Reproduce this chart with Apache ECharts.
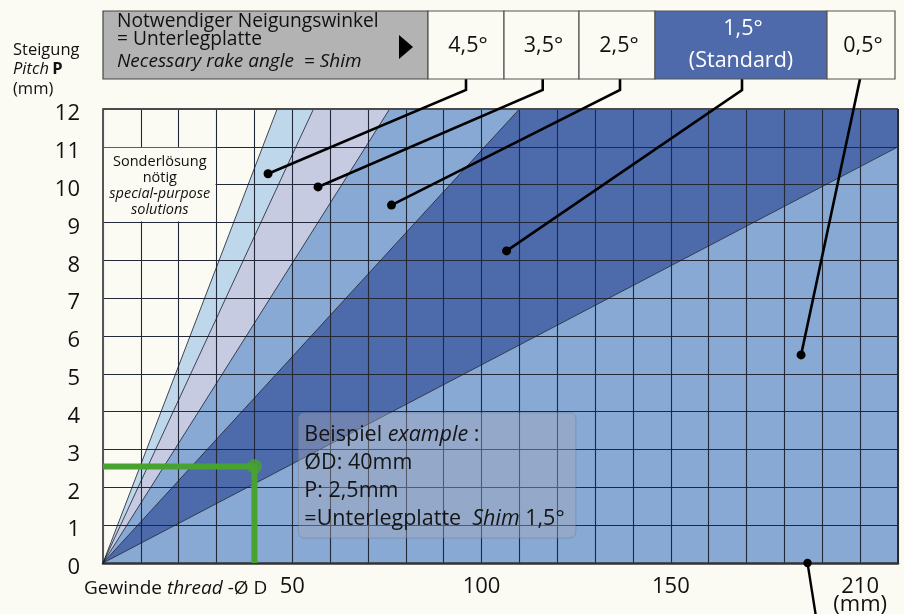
<!DOCTYPE html>
<html>
<head>
<meta charset="utf-8">
<script src="https://cdn.jsdelivr.net/npm/echarts@6/dist/echarts.min.js"></script>
<style>
html,body{margin:0;padding:0;background:#fbfbf4;}
#chart{width:904px;height:614px;}
</style>
</head>
<body>
<div id="chart"></div>
<script>
// ---------------- data ----------------
const xMin = 0, xMax = 210, xStep = 10;
const yMin = 0, yMax = 12, yStep = 1;
const xTickValues = [50, 100, 150, 200];
const xTickTexts = ['50', '100', '150', '210'];
const angleLabels = ['4,5°', '3,5°', '2,5°', '1,5°', '0,5°'];
// boundary lines from the origin (D mm, P mm) where they leave the plot
const boundaryEnds = [[46.0, 12], [55.6, 12], [75.7, 12], [110.0, 12], [210, 11.0]];
// leader-line target points, one per angle
const leaderDots = [[43.6, 10.29], [56.8, 9.94], [76.2, 9.46], [106.6, 8.25], [184.4, 5.5]];
const extraDot = [186.1, 0];
// example
const exampleD = 40, exampleP = 2.55;
const examplePath = [[0, exampleP], [exampleD, exampleP], [exampleD, 0]];
const exampleBox = [[51.6, 3.97], [124.9, 0.66]];
const noteBox = [[0, 11], [30, 9]];

// ---------------- build region polygons ----------------
function perim(p) { return p[1] >= yMax ? p[0] : xMax + (yMax - p[1]); }
const corners = [[xMax, yMax, xMax]];
const ends = boundaryEnds.concat([[xMax, 0]]);
const regionPolys = [];
for (let i = 0; i < ends.length - 1; i++) {
  const a = ends[i], b = ends[i + 1];
  const pts = [[0, 0], a];
  corners.forEach(c => { const t = c[2]; if (t > perim(a) && t < perim(b)) pts.push([c[0], c[1]]); });
  pts.push(b);
  regionPolys.push(pts);
}
const regionColors = ['#bfd7eb', '#c6cbe2', '#87a9d3', '#4d6aab', '#87a9d3'];

const FONT = '"Open Sans", "Noto Sans", sans-serif';
const BG = '#fbfbf4';
const anchorX = [466, 542.7, 620, 742, 860];

const chart = echarts.init(document.getElementById('chart'));

const headerGraphics = [];
// left title
headerGraphics.push({type:'text', x: 13, y: 50, z: 50,
  style:{text:'Steigung', font:'16.5px ' + FONT, fill:'#111', verticalAlign:'middle'}});
headerGraphics.push({type:'text', x: 13, y: 69, z: 50,
  style:{text:'{i|Pitch} {b|P}', fill:'#111', verticalAlign:'middle',
    rich:{i:{fontStyle:'italic', fontSize:16.5, fontFamily:FONT}, b:{fontWeight:'bold', fontSize:16.5, fontFamily:FONT}}}});
headerGraphics.push({type:'text', x: 13, y: 89, z: 50,
  style:{text:'(mm)', font:'16.5px ' + FONT, fill:'#111', verticalAlign:'middle'}});
// gray header box
headerGraphics.push({type:'rect', shape:{x:103, y:11, width:325, height:68}, z: 50,
  style:{fill:'#b3b3b3', stroke:'#444', lineWidth:1.2}});
headerGraphics.push({type:'text', x:117, y:22, z: 51,
  style:{text:'Notwendiger Neigungswinkel', font:'19.2px ' + FONT, fill:'#111', verticalAlign:'middle'}});
headerGraphics.push({type:'text', x:117, y:40, z: 51,
  style:{text:'= Unterlegplatte', font:'19.2px ' + FONT, fill:'#111', verticalAlign:'middle'}});
headerGraphics.push({type:'text', x:117, y:62, z: 51,
  style:{text:'Necessary rake angle  = Shim', font:'italic 19px ' + FONT, fill:'#111', verticalAlign:'middle'}});
headerGraphics.push({type:'polygon', shape:{points:[[399,35],[413,47],[399,59]]}, z: 51, style:{fill:'#000'}});
// angle boxes
const boxEdges = [428, 504, 579, 655, 827, 895];
for (let i = 0; i < angleLabels.length; i++) {
  const x0 = boxEdges[i], x1 = boxEdges[i + 1];
  const std = i === 3;
  headerGraphics.push({type:'rect', shape:{x:x0, y:11, width:x1 - x0, height:68}, z: 50,
    style:{fill: std ? '#4e6aab' : BG, stroke:'#555', lineWidth:1.2}});
  headerGraphics.push({type:'text', x:(x0 + x1) / 2 + 2, y: std ? 29 : 46, z: 51,
    style:{text: angleLabels[i], font:'21.5px ' + FONT, fill: std ? '#fff' : '#111', align:'center', verticalAlign:'middle'}});
  if (std) headerGraphics.push({type:'text', x:(x0 + x1) / 2, y:61, z: 51,
    style:{text:'(Standard)', font:'21.5px ' + FONT, fill:'#fff', align:'center', verticalAlign:'middle'}});
}
// x axis name
headerGraphics.push({type:'text', x:84, y:589, z: 50,
  style:{text:'{n|Gewinde }{i|thread}{n| -Ø D}', fill:'#111', verticalAlign:'middle',
    rich:{n:{fontSize:19, fontFamily:FONT}, i:{fontSize:19, fontFamily:FONT, fontStyle:'italic'}}}});

const option = {
  backgroundColor: BG,
  animation: false,
  grid: {left: 103, right: 6, top: 109, bottom: 51, containLabel: false, outerBoundsMode: 'none'},
  xAxis: {
    type: 'value', min: xMin, max: xMax, interval: xStep, z: 3,
    axisLine: {show: true, onZero: false, lineStyle: {color: '#333', width: 2.5}},
    axisTick: {show: false},
    splitLine: {show: true, lineStyle: {color: '#232838', width: 1.1}},
    axisLabel: {
      margin: 15, fontFamily: FONT, fontSize: 22, color: '#111', lineHeight: 18,
      showMinLabel: false, showMaxLabel: false, hideOverlap: false,
      formatter: function (v) {
        const k = xTickValues.indexOf(v);
        if (k < 0) return '';
        return k === xTickValues.length - 1 ? xTickTexts[k] + '\n(mm)' : xTickTexts[k];
      }
    }
  },
  yAxis: {
    type: 'value', min: yMin, max: yMax, interval: yStep, z: 3,
    axisLine: {show: true, lineStyle: {color: '#555', width: 2}},
    axisTick: {show: false},
    splitLine: {show: true, lineStyle: {color: '#232838', width: 1.1}},
    axisLabel: {margin: 23, fontFamily: FONT, fontSize: 22, color: '#111', verticalAlign: 'top', lineHeight: 10}
  },
  graphic: headerGraphics,
  series: [
    {
      type: 'custom', name: 'regions', z: 1, silent: true,
      data: regionPolys.map(p => p[1]),
      renderItem: function (params, api) {
        const poly = regionPolys[params.dataIndex];
        return {type: 'polygon', shape: {points: poly.map(p => api.coord(p))},
          style: {fill: regionColors[params.dataIndex], stroke: null}};
      }
    },
    {
      type: 'custom', name: 'boundaries', z: 4, silent: true,
      data: boundaryEnds,
      renderItem: function (params, api) {
        const a = api.coord([0, 0]), b = api.coord([api.value(0), api.value(1)]);
        return {type: 'line', shape: {x1: a[0], y1: a[1], x2: b[0], y2: b[1]},
          style: {stroke: '#141a2c', lineWidth: 0.8}};
      }
    },
    {
      type: 'custom', name: 'frame', z: 5, silent: true,
      data: [[xMax, yMax]],
      renderItem: function (params, api) {
        const tl = api.coord([xMin, yMax]), br = api.coord([xMax, yMin]);
        return {type: 'group', children: [
          {type: 'line', shape: {x1: tl[0], y1: tl[1], x2: br[0], y2: tl[1]}, style: {stroke: '#4a4a4a', lineWidth: 2}},
          {type: 'line', shape: {x1: br[0], y1: tl[1], x2: br[0], y2: br[1]}, style: {stroke: '#2a2a2a', lineWidth: 2}}
        ]};
      }
    },
    {
      type: 'custom', name: 'note', z: 6, silent: true,
      data: [noteBox[0]],
      renderItem: function (params, api) {
        const a = api.coord(noteBox[0]), b = api.coord(noteBox[1]);
        return {type: 'group', children: [
          {type: 'rect', shape: {x: a[0] + 1, y: a[1] + 1, width: b[0] - a[0] - 2, height: b[1] - a[1] - 2}, style: {fill: BG}},
          {type: 'text', style: {x: (a[0] + b[0]) / 2, y: (a[1] + b[1]) / 2 + 1, align: 'center', verticalAlign: 'middle',
            text: '{n|Sonderlösung}\n{n|nötig}\n{i|special-purpose}\n{i|solutions}',
            rich: {n: {fontFamily: FONT, fontSize: 14.5, lineHeight: 16, fill: '#111'},
                   i: {fontFamily: FONT, fontSize: 14.5, lineHeight: 16, fontStyle: 'italic', fill: '#111'}}}}
        ]};
      }
    },
    {
      type: 'custom', name: 'exampleBox', z: 7, silent: true,
      data: [exampleBox[0]],
      renderItem: function (params, api) {
        const a = api.coord(exampleBox[0]), b = api.coord(exampleBox[1]);
        return {type: 'group', children: [
          {type: 'rect', shape: {x: a[0], y: a[1], width: b[0] - a[0], height: b[1] - a[1], r: 6},
            style: {fill: 'rgba(170,170,184,0.38)', stroke: 'rgba(100,105,130,0.35)', lineWidth: 1}},
          {type: 'text', style: {x: a[0] + 6, y: a[1] + 8, align: 'left', verticalAlign: 'top',
            text: '{n|Beispiel }{i|example}{n| :}\n{n|ØD: 40mm}\n{n|P: 2,5mm}\n{n|=Unterlegplatte  }{i|Shim}{n| 1,5°}',
            rich: {n: {fontFamily: FONT, fontSize: 21.5, lineHeight: 28, fill: '#151515'},
                   i: {fontFamily: FONT, fontSize: 21.5, lineHeight: 28, fontStyle: 'italic', fill: '#151515'}}}}
        ]};
      }
    },
    {
      type: 'line', name: 'example', z: 8, silent: true,
      data: examplePath, symbol: 'none',
      lineStyle: {color: '#47a22f', width: 6, join: 'round'}
    },
    {
      type: 'scatter', name: 'exampleDot', z: 8, silent: true,
      data: [[exampleD, exampleP]], symbolSize: 15,
      itemStyle: {color: '#47a22f'}
    },
    {
      type: 'custom', name: 'leaders', z: 9, silent: true,
      data: leaderDots,
      renderItem: function (params, api) {
        const i = params.dataIndex;
        const p = api.coord([api.value(0), api.value(1)]);
        const pts = i < 4 ? [[anchorX[i], 79], [anchorX[i], 90], p] : [[anchorX[i], 79], p];
        return {type: 'group', children: [
          {type: 'polyline', shape: {points: pts}, style: {stroke: '#000', lineWidth: 2.6, fill: null}},
          {type: 'circle', shape: {cx: p[0], cy: p[1], r: 4.5}, style: {fill: '#000'}}
        ]};
      }
    },
    {
      type: 'custom', name: 'extraLeader', z: 9, silent: true,
      data: [extraDot],
      renderItem: function (params, api) {
        const p = api.coord([api.value(0), api.value(1)]);
        return {type: 'group', children: [
          {type: 'line', shape: {x1: p[0], y1: p[1], x2: p[0] + 9, y2: 620}, style: {stroke: '#000', lineWidth: 2.4}},
          {type: 'circle', shape: {cx: p[0], cy: p[1], r: 4.2}, style: {fill: '#000'}}
        ]};
      }
    }
  ]
};
chart.setOption(option);
</script>
</body>
</html>
